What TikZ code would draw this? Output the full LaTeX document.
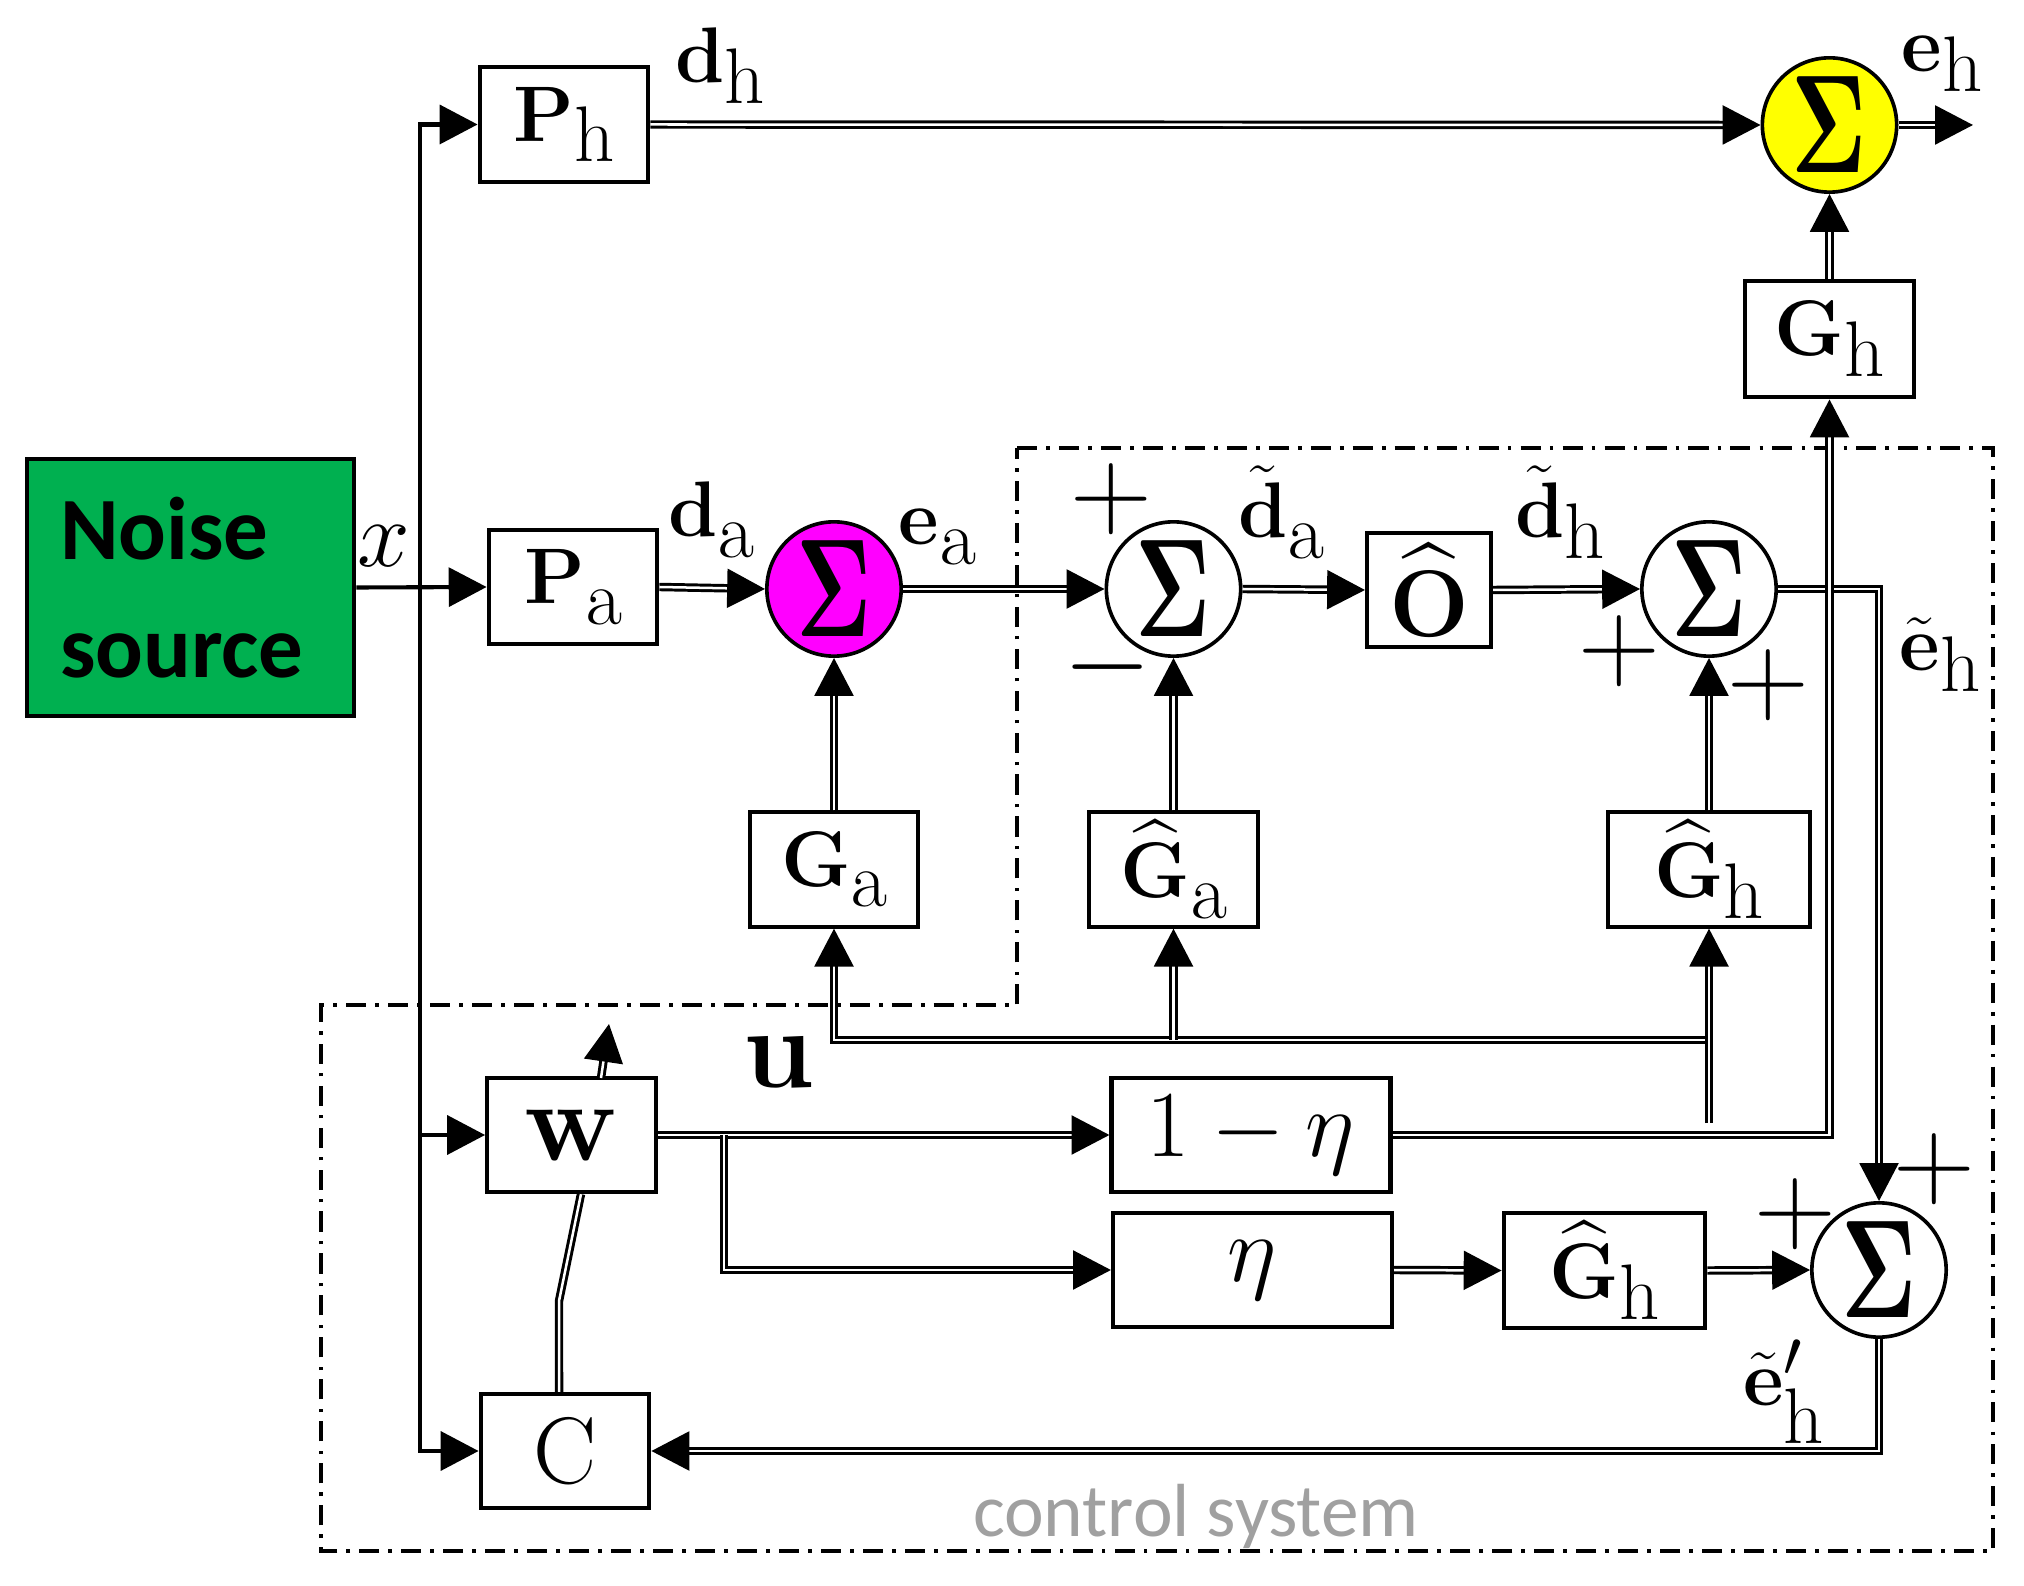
\documentclass[tikz,border=0pt]{standalone}
\usepackage{amsmath}
\usepackage[no-math]{fontspec}
\newfontfamily\calibri{Carlito}
\usetikzlibrary{arrows.meta,positioning,calc}

\definecolor{noisegreen}{RGB}{0,176,80}
\definecolor{summagenta}{RGB}{255,0,255}
\definecolor{sumyellow}{RGB}{255,255,0}
\definecolor{sysgray}{RGB}{160,160,160}

% bold symbol with a full-size lowered subscript
\newcommand{\lbl}[2]{$#1$\raisebox{-0.24em}{$\mathrm{#2}$}}
\newcommand{\sumsign}{\resizebox{16.5pt}{21pt}{$\mathbf{\Sigma}$}}

\tikzset{
  block/.style={draw, line width=0.9pt, fill=white, minimum width=1.3cm, minimum height=0.88cm, inner sep=0pt, font=\fontsize{19}{21}\selectfont},
  sumnode/.style={draw, circle, line width=0.8pt, minimum size=1.035cm, inner sep=0pt},
  sig/.style={draw, line width=0.65pt, double=white, double distance=0.55pt, -{Triangle[length=8.3pt,width=8.5pt]}},
  xsig/.style={line width=0.9pt, -{Triangle[length=8.3pt,width=8.5pt]}},
  lab/.style={font=\fontsize{19}{21}\selectfont, inner sep=0pt},
  pm/.style={font=\fontsize{24}{24}\selectfont, inner sep=0pt},
  sysbox/.style={line width=0.75pt, dash pattern=on 4.4pt off 2pt on 0.8pt off 2pt},
}

\begin{document}
\begin{tikzpicture}[x=0.0077cm, y=-0.0077cm]
    \useasboundingbox (0,0) rectangle (2024,1586);

    % control system frame
    \draw[sysbox] (1017,448) -- (1993,448) -- (1993,1551) -- (321,1551) -- (321,1005) -- (1017,1005) -- cycle;
    \node[font=\calibri\fontsize{16.5}{18}\selectfont, text=sysgray, anchor=base, inner sep=0pt] (ctrl) at (1196,1536) {control system};

    % Plant side
    \node[block, fill=noisegreen, line width=1pt, minimum width=2.52cm, minimum height=1.98cm, text width=2.01cm, align=left, font=\calibri\bfseries\fontsize{19.5}{26}\selectfont] (noise) at (190.5,587.5) {Noise\\source};
    \node[block] (Ph) at (564,124.5) {\lbl{\mathbf{P}}{h}};
    \node[block] (Pa) at (573,587) {\lbl{\mathbf{P}}{a}};
    \node[sumnode, fill=summagenta] (suma) at (834,589) {\sumsign};
    \node[sumnode, fill=sumyellow] (sumh) at (1829.5,125) {\sumsign};
    \node[block, minimum height=0.9cm] (Gh) at (1829.5,339) {\lbl{\mathbf{G}}{h}};
    \node[block] (Ga) at (834,869.5) {\lbl{\mathbf{G}}{a}};

    % Estimation path
    \node[sumnode] (sum2) at (1173.5,589) {\sumsign};
    \node[block, minimum width=0.955cm, font=\fontsize{22}{24}\selectfont] (Oh) at (1429,590) {$\widehat{\mathbf{O}}$};
    \node[sumnode] (sum3) at (1709,589) {\sumsign};
    \node[block] (Gaest) at (1173.5,869.5) {\lbl{\widehat{\mathbf{G}}}{a}};
    \node[block, minimum width=1.555cm] (Ghest) at (1709,869.5) {\lbl{\widehat{\mathbf{G}}}{h}};

    % Controller
    \node[block, font=\fontsize{23}{24}\selectfont] (w) at (571.5,1135) {$\mathbf{w}$};
    \node[block, font=\fontsize{21}{22}\selectfont] (C) at (565,1451) {$\mathrm{C}$};
    \node[block, minimum width=2.15cm, font=\fontsize{22}{24}\selectfont] (oneeta) at (1251,1135) {$1-\eta$};
    \node[block, minimum width=2.15cm, font=\fontsize{22}{24}\selectfont] (eta) at (1252.5,1270) {$\eta$};
    \node[block, minimum width=1.555cm] (Ghest2) at (1604.5,1270.5) {\lbl{\widehat{\mathbf{G}}}{h}};
    \node[sumnode] (sum4) at (1879,1270) {\sumsign};

    % signal labels
    \node[lab, font=\fontsize{22}{22}\selectfont] (xl) at (384,546) {$x$};
    \node[lab] (dhl) at (720,66) {\lbl{\mathbf{d}}{h}};
    \node[lab] (dal) at (711,520) {\lbl{\mathbf{d}}{a}};
    \node[lab] (eal) at (937,537) {\lbl{\mathbf{e}}{a}};
    \node[lab] (ehl) at (1942,64) {\lbl{\mathbf{e}}{h}};
    \node[lab] (dtal) at (1281,512) {\lbl{\tilde{\mathbf{d}}}{a}};
    \node[lab] (dthl) at (1560,512) {\lbl{\tilde{\mathbf{d}}}{h}};
    \node[lab] (ethl) at (1940,655) {\lbl{\tilde{\mathbf{e}}}{h}};
    \node[lab] (ethpl) at (1785,1392) {$\tilde{\mathbf{e}}'_{\textstyle\mathrm{h}}$};
    \node[lab, font=\fontsize{23}{24}\selectfont] (ul) at (779,1062) {$\mathbf{u}$};

    % signs at the summers
    \node[pm] (p2a) at (1111,499) {$+$};
    \node[pm] (m2b) at (1108,667) {$-$};
    \node[pm] (p3a) at (1619,651) {$+$};
    \node[pm] (p3b) at (1768,685) {$+$};
    \node[pm] (p4a) at (1795,1214) {$+$};
    \node[pm] (p4b) at (1934,1169) {$+$};

    % reference signal x
    \coordinate (bus) at (420,587);
    \draw[xsig] (noise.east) -- (Pa.west);
    \draw[xsig] (bus) |- (Ph.west);
    \draw[xsig] (bus) |- (C.west);
    \draw[xsig] (bus |- w) -- (w.west);

    % primary paths
    \coordinate (ehout) at (1973,125);
    \draw[sig] (Ph.east) -- (sumh.west);
    \draw[sig] (sumh.east) -- (ehout);
    \draw[sig] (Gh.north) -- (sumh.south);
    \draw[sig] (Pa.east) -- (suma.west);
    \draw[sig] (Ga.north) -- (suma.south);
    \draw[sig] (suma.east) -- (sum2.west);
    \draw[sig] (sum2.east) -- (Oh.west);
    \draw[sig] (Oh.east) -- (sum3.west);
    \draw[sig] (Gaest.north) -- (sum2.south);
    \draw[sig] (Ghest.north) -- (sum3.south);
    \draw[sig] (sum3.east) -| (sum4.north);

    % control signal u
    \coordinate (ujoin) at (1709,1040);
    \coordinate (ustub) at (1709,1123);
    \draw[sig] (ujoin) -| (Ga.south);
    \draw[sig] (ujoin -| Gaest) -- (Gaest.south);
    \draw[sig] (ustub) -- (Ghest.south);

    % weighting branches
    \coordinate (wbr) at (724,1135);
    \draw[sig] (w.east) -- (oneeta.west);
    \draw[sig] (wbr) |- (eta.west);
    \draw[sig] (oneeta.east) -| (Gh.south);
    \draw[sig] (eta.east) -- (Ghest2.west);
    \draw[sig] (Ghest2.east) -- (sum4.west);
    \draw[sig] (sum4.south) |- (C.east);

    % update of w
    \coordinate (cbend) at (559,1301);
    \coordinate (wtop) at (601,1078);
    \coordinate (wout) at (609,1024);
    \draw[sig, -] ([xshift=-0.046cm]C.north) -- (cbend) -- ([xshift=0.073cm]w.south);
    \draw[sig] (wtop) -- (wout);
\end{tikzpicture}
\end{document}
